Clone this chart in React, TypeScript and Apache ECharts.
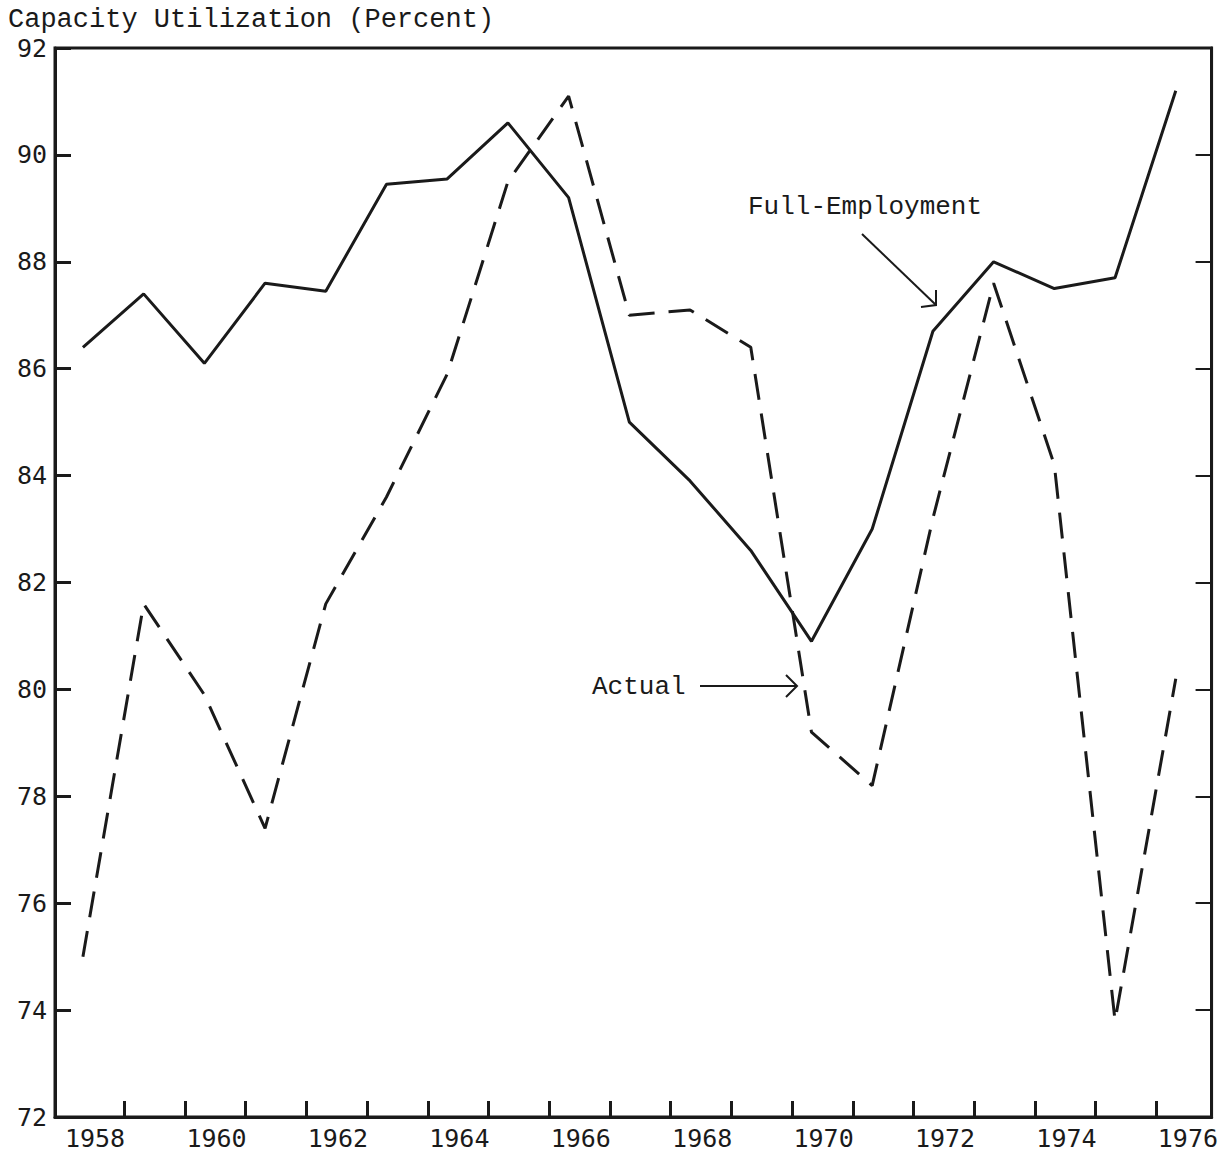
import React, { useEffect, useRef } from "react";
import * as echarts from "echarts";

const years = [1958, 1959, 1960, 1961, 1962, 1963, 1964, 1965, 1966, 1967, 1968, 1969, 1970, 1971, 1972, 1973, 1974, 1975, 1976];
const fullEmployment = [86.4, 87.4, 86.1, 87.6, 87.45, 89.45, 89.55, 90.6, 89.2, 85.0, 83.9, 82.6, 80.9, 83.0, 86.7, 88.0, 87.5, 87.7, 91.2];
const actual = [75.0, 81.6, 79.9, 77.4, 81.6, 83.6, 85.9, 89.5, 91.1, 87.0, 87.1, 86.4, 79.2, 78.2, 83.2, 87.6, 84.2, 73.8, 80.2];
const xLabelYears = [1958, 1960, 1962, 1964, 1966, 1968, 1970, 1972, 1974, 1976];
const xTickYears = [1958, 1959, 1960, 1961, 1962, 1963, 1964, 1965, 1966, 1967, 1968, 1969, 1970, 1971, 1972, 1973, 1974, 1975];

const LABEL_SHIFT = 0.2;
const TICK_SHIFT = 0.68;
const MONO = "'Liberation Mono', 'DejaVu Sans Mono', monospace";
const NUM = "'DejaVu Sans Mono', monospace";
const INK = "#1a1a1a";

export default function App() {
  const ref = useRef<HTMLDivElement>(null);
  useEffect(() => {
    document.body.style.margin = "0";
    const chart = echarts.init(ref.current!, null, { renderer: "svg" });
    const fe = years.map((y, i) => [y, fullEmployment[i]]);
    const ac = years.map((y, i) => [y, actual[i]]);
    chart.setOption({
      animation: false,
      backgroundColor: "#fff",
      grid: {
        left: 55,
        top: 48,
        width: 1159,
        height: 1069,
        show: true,
        borderColor: INK,
        borderWidth: 3,
        backgroundColor: "transparent",
      },
      xAxis: {
        type: "value",
        min: 1957.54,
        max: 1976.59,
        axisLine: { show: true, lineStyle: { color: INK, width: 3 } },
        splitLine: { show: false },
        axisTick: {
          show: true,
          inside: true,
          length: 16,
          lineStyle: { color: INK, width: 3 },
          customValues: xTickYears.map((y) => y + TICK_SHIFT),
        },
        axisLabel: {
          show: true,
          customValues: xLabelYears.map((y) => y + LABEL_SHIFT),
          formatter: (v: number) => String(Math.round(v - LABEL_SHIFT)),
          fontFamily: NUM,
          fontSize: 25,
          lineHeight: 24,
          color: INK,
          margin: 9,
        },
      },
      yAxis: [
        {
          type: "value",
          min: 72,
          max: 92,
          interval: 2,
          position: "left",
          axisLine: { show: true, lineStyle: { color: INK, width: 3 } },
          splitLine: { show: false },
          axisTick: { show: true, inside: true, length: 16, lineStyle: { color: INK, width: 3 } },
          axisLabel: { fontFamily: NUM, fontSize: 25, lineHeight: 22, color: INK, margin: 8 },
        },
        {
          type: "value",
          min: 72,
          max: 92,
          interval: 2,
          position: "right",
          axisLine: { show: true, lineStyle: { color: INK, width: 3 } },
          splitLine: { show: false },
          axisTick: { show: true, inside: true, length: 16, lineStyle: { color: INK, width: 2 } },
          axisLabel: { show: false },
        },
      ],
      series: [
        {
          name: "Full-Employment",
          type: "line",
          data: fe,
          symbol: "none",
          lineStyle: { color: INK, width: 3, type: "solid" },
        },
        {
          name: "Actual",
          type: "line",
          data: ac,
          symbol: "none",
          lineStyle: { color: INK, width: 3, type: [26, 14] },
        },
      ],
      graphic: [
        {
          type: "text",
          x: 8,
          y: 20,
          style: {
            text: "Capacity Utilization (Percent)",
            font: `27px ${MONO}`,
            lineHeight: 22,
            fill: INK,
            verticalAlign: "middle",
          },
        },
        {
          type: "text",
          x: 748,
          y: 207,
          style: { text: "Full-Employment", font: `26px ${MONO}`, fill: INK, verticalAlign: "middle" },
        },
        {
          type: "line",
          shape: { x1: 862, y1: 234, x2: 936, y2: 305 },
          style: { stroke: INK, lineWidth: 2 },
        },
        {
          type: "polyline",
          shape: { points: [[936, 290], [936, 305], [921, 307]] },
          style: { stroke: INK, lineWidth: 2, fill: null },
        },
        {
          type: "text",
          x: 592,
          y: 687,
          style: { text: "Actual", font: `26px ${MONO}`, fill: INK, verticalAlign: "middle" },
        },
        {
          type: "line",
          shape: { x1: 700, y1: 686, x2: 796, y2: 686 },
          style: { stroke: INK, lineWidth: 2 },
        },
        {
          type: "polyline",
          shape: { points: [[786, 675], [797, 686], [786, 697]] },
          style: { stroke: INK, lineWidth: 2, fill: null },
        },
      ],
    });
    return () => chart.dispose();
  }, []);
  return <div ref={ref} style={{ width: 1221, height: 1155, background: "#fff" }} />;
}
